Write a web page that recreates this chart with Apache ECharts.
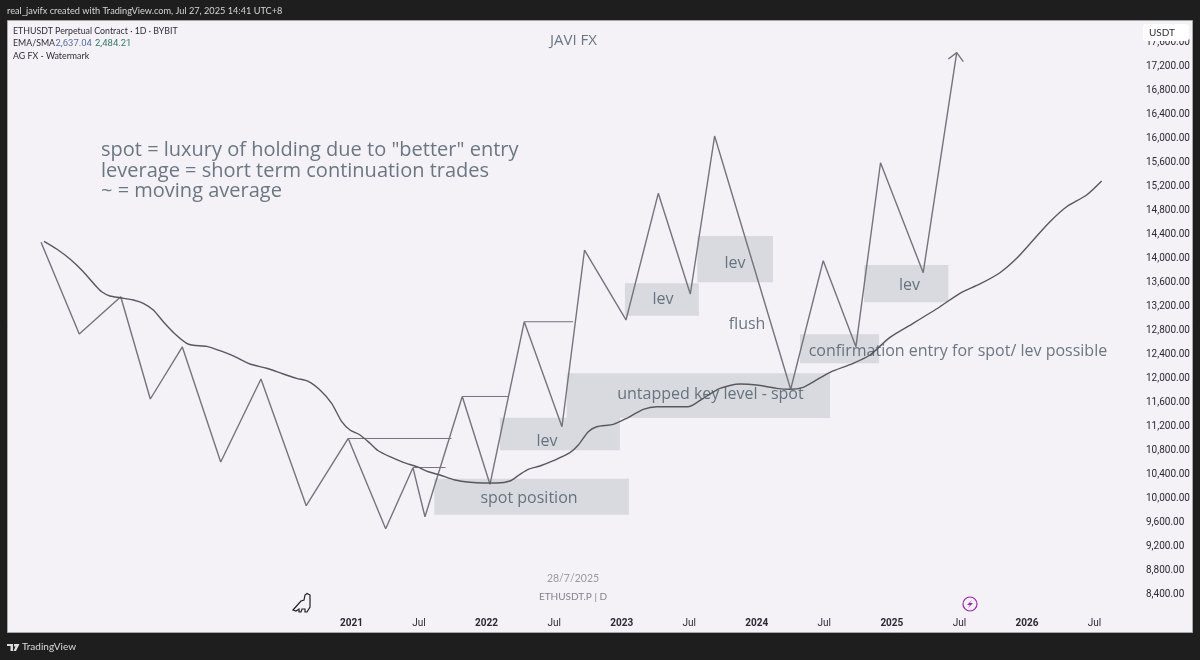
<!DOCTYPE html>
<html><head><meta charset="utf-8">
<style>html,body{margin:0;padding:0;background:#1e1e1e}#c{width:1200px;height:660px}</style>
<script src="https://cdn.jsdelivr.net/npm/echarts@6/dist/echarts.min.js"></script>
</head><body><div id="c"></div>
<script>
// swing path (years, price)
const swingYears=[2018.702,2018.985,2019.292,2019.511,2019.748,2020.032,2020.330,2020.665,2020.976,2021.253,2021.455,2021.544,2021.820,2022.025,2022.279,2022.558,2022.725,2023.032,2023.271,2023.508,2023.688,2024.251,2024.492,2024.734,2024.916,2025.232,2025.480];
const swingValues=[14262,12733,13355,11650,12517,10600,11983,9872,10992,9488,10505,9688,11692,10228,12938,11188,14133,12967,15078,13400,16033,11812,13955,12522,15588,13755,17422];
const arrowYears=[2025.418,2025.480,2025.529];
const arrowValues=[17317,17422,17272];
// moving average
const avgYears=[2018.724,2018.818,2018.916,2019.015,2019.101,2019.151,2019.212,2019.286,2019.385,2019.459,2019.533,2019.607,2019.694,2019.780,2019.829,2019.928,2020.027,2020.125,2020.249,2020.372,2020.495,2020.594,2020.680,2020.767,2020.853,2020.928,2020.989,2021.063,2021.137,2021.198,2021.285,2021.383,2021.483,2021.569,2021.655,2021.766,2021.877,2021.976,2022.075,2022.173,2022.247,2022.309,2022.395,2022.494,2022.617,2022.679,2022.753,2022.815,2022.938,2023.037,2023.160,2023.259,2023.493,2023.604,2023.728,2023.876,2023.999,2024.147,2024.246,2024.344,2024.443,2024.542,2024.714,2024.838,2024.986,2025.158,2025.356,2025.504,2025.652,2025.800,2025.924,2026.047,2026.170,2026.294,2026.442,2026.553];
const avgValues=[14278,14150,13983,13772,13550,13438,13367,13338,13300,13245,13133,12938,12733,12578,12545,12528,12455,12367,12233,12162,12067,11995,11945,11800,11578,11272,11133,11050,10912,10788,10688,10595,10522,10438,10383,10300,10262,10250,10250,10283,10395,10478,10533,10622,10755,10883,11105,11188,11228,11328,11478,11522,11522,11662,11828,11900,11883,11828,11812,11845,11967,12095,12245,12383,12678,12912,13188,13412,13567,13755,13995,14300,14605,14855,15050,15283];
// horizontal level lines
const levelStart=[2020.976,2021.455,2021.820,2022.279];
const levelEnd=[2021.740,2021.696,2022.160,2022.640];
const levelValue=[10992,10508,11692,12938];
// shaded zones
const zoneX0=[2021.613,2022.099,2022.593,2023.024,2023.560,2024.320,2024.794];
const zoneX1=[2023.054,2022.987,2024.542,2023.572,2024.120,2024.905,2025.418];
const zoneTop=[10322,11338,12078,13578,14367,12728,13883];
const zoneBottom=[9722,10795,11333,13038,13595,12245,13262];
// annotations
const noteText=['spot position','lev','untapped key level - spot','lev','lev','flush','confirmation entry for spot/ lev possible','lev'];
const noteYears=[2022.314,2022.447,2023.657,2023.306,2023.839,2023.928,2025.489,2025.130];
const noteValues=[10000,10950,11725,13317,13917,12900,12450,13550];
const leadText=['spot = luxury of holding due to "better" entry','leverage = short term continuation trades','~ = moving average'];
const leadYears=[2019.146,2019.146,2019.146];
const leadValues=[15800,15450,15108];
const titleText=['JAVI FX'];const titleYears=[2022.643];const titleValues=[17620];
// axis
const yearMin=2018.5,yearMax=2026.859,priceMin=8400,priceMax=18000,priceStep=400;
const firstYearLabel=2021,midYearLabel='Jul';

const UI='Lato,"Open Sans",sans-serif';
const NUM='Roboto,"Open Sans",sans-serif';
const NOTE='"Open Sans",sans-serif';
const zip=(a,b)=>a.map((v,i)=>[v,b[i]]);
const notes=(t,x,y)=>t.map((s,i)=>({name:s,value:[x[i],y[i]]}));
const levelData=[];levelStart.forEach((s,i)=>{levelData.push([s,levelValue[i]],[levelEnd[i],levelValue[i]],[null,null]);});
const LINE='#74747c',TXT='#475964';
const noteSeries=(data,size,align,color)=>({type:'scatter',data,symbolSize:0,silent:true,z:6,clip:false,
  label:{show:true,position:'inside',align,verticalAlign:'middle',formatter:p=>p.name,fontFamily:NOTE,fontSize:size,color}});

const chart=echarts.init(document.getElementById('c'),null,{width:1200,height:660,renderer:'canvas'});
chart.setOption({
 animation:false,backgroundColor:'#1e1e1e',
 grid:{left:13.75,top:18,width:1129.25,height:576},
 xAxis:{type:'value',min:yearMin,max:yearMax,interval:0.5,splitLine:{show:false},axisLine:{show:false},axisTick:{show:false},
  axisLabel:{margin:24,color:'#2a2a30',fontFamily:NUM,fontSize:10,showMaxLabel:false,
   rich:{y:{fontWeight:'bold',fontSize:10,color:'#2a2a30',fontFamily:NUM}},
   formatter:v=>v<firstYearLabel?'':(Number.isInteger(v)?'{y|'+v+'}':midYearLabel)}},
 yAxis:{type:'value',position:'right',min:priceMin,max:priceMax,interval:priceStep,splitLine:{show:false},axisLine:{show:false},axisTick:{show:false},
  axisLabel:{margin:3,color:'#2a2a30',fontFamily:NUM,fontSize:10,showMaxLabel:false,
   formatter:v=>v.toLocaleString('en-US',{minimumFractionDigits:2,maximumFractionDigits:2})}},
 series:[
  {type:'line',data:[],silent:true,z:1,
   markArea:{silent:true,itemStyle:{color:'#d8dadf'},
    data:zoneX0.map((x,i)=>[{coord:[x,zoneTop[i]]},{coord:[zoneX1[i],zoneBottom[i]]}])}},
  {name:'levels',type:'line',data:levelData,showSymbol:false,silent:true,z:3,connectNulls:false,lineStyle:{color:LINE,width:1}},
  {name:'swing',type:'line',data:zip(swingYears,swingValues),showSymbol:false,silent:true,z:3,lineStyle:{color:LINE,width:1.4}},
  {name:'arrow',type:'line',data:zip(arrowYears,arrowValues),showSymbol:false,silent:true,z:3,lineStyle:{color:LINE,width:1.4}},
  {name:'average',type:'line',data:zip(avgYears,avgValues),smooth:0.25,showSymbol:false,silent:true,z:4,lineStyle:{color:'#58585f',width:1.4}},
  noteSeries(notes(noteText,noteYears,noteValues),16,'center',TXT),
  noteSeries(notes(leadText,leadYears,leadValues),20,'left',TXT),
  noteSeries(notes(titleText,titleYears,titleValues),15,'center',TXT)
 ],
 graphic:[
  {type:'rect',z:-5,silent:true,shape:{x:7.5,y:20.5,width:1185,height:612},style:{fill:'#f4f1f7',stroke:'#a8a8a8',lineWidth:1}},
  {type:'text',z:20,x:7,y:11,style:{text:'real_javifx created with TradingView.com, Jul 27, 2025 14:41 UTC+8',fill:'#d6d6d6',verticalAlign:'middle',font:'9.2px '+UI}},
  {type:'text',z:20,x:13,y:31,style:{text:'ETHUSDT Perpetual Contract · 1D · BYBIT',fill:'#2e2e34',verticalAlign:'middle',font:'8.8px '+UI}},
  {type:'text',z:20,x:13,y:43.5,style:{text:'EMA/SMA',fill:'#2e2e34',verticalAlign:'middle',font:'8.8px '+UI}},
  {type:'text',z:20,x:55.5,y:43.5,style:{text:'2,637.04',fill:'#5a6fa8',verticalAlign:'middle',font:'9.5px '+NUM}},
  {type:'text',z:20,x:95,y:43.5,style:{text:'2,484.21',fill:'#2f7d66',verticalAlign:'middle',font:'9.5px '+NUM}},
  {type:'text',z:20,x:13,y:56,style:{text:'AG FX - Watermark',fill:'#2e2e34',verticalAlign:'middle',font:'8.8px '+UI}},
  {type:'rect',z:20,silent:true,shape:{x:1143,y:24,width:46,height:17,r:3},style:{fill:'#ffffff'}},
  {type:'text',z:21,x:1149,y:33,style:{text:'USDT',fill:'#2e2e34',verticalAlign:'middle',font:'10px '+UI}},
  {type:'text',z:20,x:573,y:578.5,style:{text:'28/7/2025',fill:'#9a9a9f',align:'center',verticalAlign:'middle',font:'10.5px '+UI}},
  {type:'text',z:20,x:573,y:596.5,style:{text:'ETHUSDT.P | D',fill:'#85858c',align:'center',verticalAlign:'middle',font:'10px '+UI}},
  {type:'polygon',z:20,silent:true,shape:{points:[[293,610],[301,601],[304,600],[305,595],[307,593.5],[310,595],[310,607],[307,612],[305,612],[305,609],[302,609],[301,612],[299,612],[299,609],[296,611]]},
    style:{fill:'none',stroke:'#1e1e22',lineWidth:1.2}},
  {type:'circle',z:20,silent:true,shape:{cx:970,cy:604,r:7},style:{fill:'none',stroke:'#9c27b0',lineWidth:1.2}},
  {type:'polygon',z:20,silent:true,shape:{points:[[972,600],[967,605],[970,605],[968,608],[973,603],[970,603]]},style:{fill:'#9c27b0'}},
  {type:'polygon',z:20,silent:true,shape:{points:[[7,644],[13,644],[13,651],[10.5,651],[10.5,646],[7,646]]},style:{fill:'#dcdcdc'}},
  {type:'polygon',z:20,silent:true,shape:{points:[[14,644],[19.5,644],[16,651],[13.5,651],[15.5,646.5],[14,646.5]]},style:{fill:'#dcdcdc'}},
  {type:'text',z:20,x:22,y:647,style:{text:'TradingView',fill:'#dcdcdc',verticalAlign:'middle',font:'10px '+UI}}
 ]
});
</script></body></html>
